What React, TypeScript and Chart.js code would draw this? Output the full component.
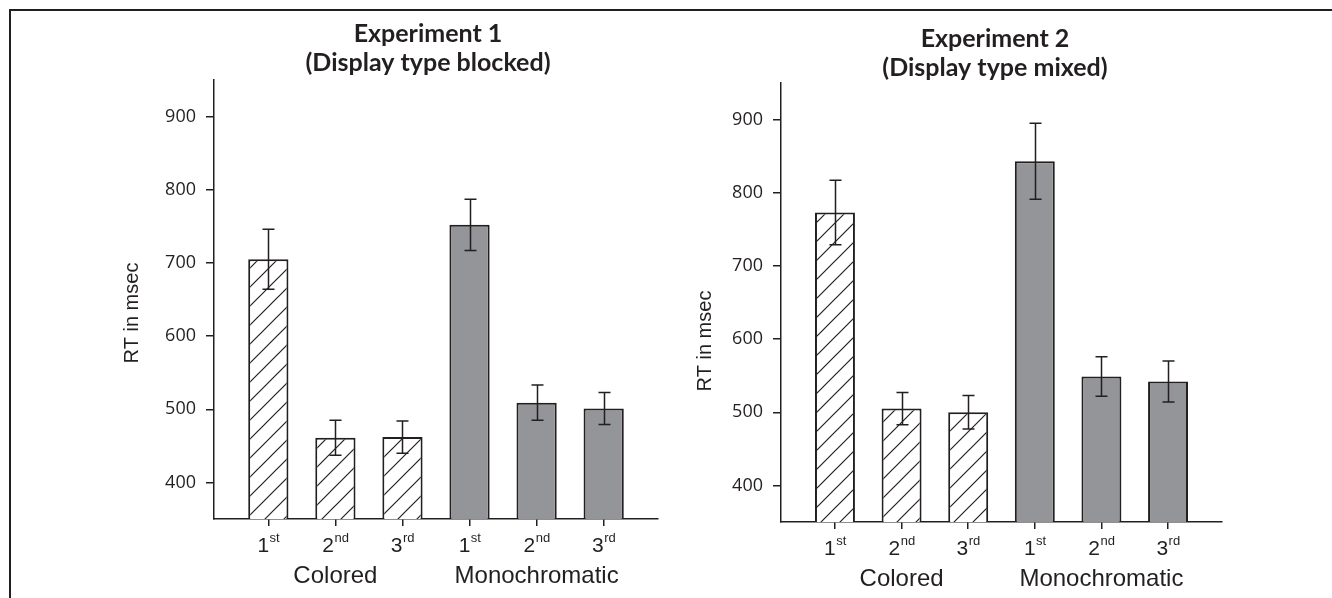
import React, { useEffect, useRef } from "react";
import { Chart, registerables } from "chart.js";

Chart.register(...registerables);

// ---------- data ----------
const CATEGORY_POS = [0, 1, 2, 3, 4, 5];
const TICK_NUMS = ["1", "2", "3", "1", "2", "3"];
const TICK_SUPS = ["st", "nd", "rd", "st", "nd", "rd"];
const GROUP_LABELS = ["Colored", "Monochromatic"];
const GROUP_CENTERS = [1, 4];
const BAR_STYLE = ["hatch", "hatch", "hatch", "solid", "solid", "solid"];
const Y_TICKS = [400, 500, 600, 700, 800, 900];
const Y_MIN = 350;
const Y_MAX = 950;
const X_MIN = -0.81;
const X_MAX = 5.81;
const Y_LABEL = "RT in msec";

const EXP1_TITLE = ["Experiment 1", "(Display type blocked)"];
const EXP1_RT = [705, 461, 462, 752, 509, 501];
const EXP1_ERR = [41, 24, 22, 35, 24, 22];

const EXP2_TITLE = ["Experiment 2", "(Display type mixed)"];
const EXP2_RT = [773, 505, 500, 843, 549, 542];
const EXP2_ERR = [44, 22, 23, 52, 27, 28];

// ---------- styles ----------
const INK = "#231f20";
const BAR_GRAY = "#939598";
const SANS = "'Liberation Sans', Arial, sans-serif";
const NUM_FONT = "'Open Sans', sans-serif";
const TITLE_FONT = "Lato, 'Open Sans', sans-serif";

type Geom = {
  canvas: { x: number; y: number; w: number; h: number };
  area: { l: number; r: number; t: number; b: number };
  yTitle: { x: number; y: number };
  title: { cx: number; y1: number; y2: number };
};

const LEFT_GEOM: Geom = {
  canvas: { x: 12, y: 12, w: 654, h: 586 },
  area: { l: 214, r: 658, t: 80, b: 519 },
  yTitle: { x: 132, y: 313 },
  title: { cx: 428, y1: 34, y2: 63 },
};

const RIGHT_GEOM: Geom = {
  canvas: { x: 666, y: 12, w: 666, h: 586 },
  area: { l: 781, r: 1222, t: 83, b: 522 },
  yTitle: { x: 705, y: 341 },
  title: { cx: 995, y1: 39, y2: 68 },
};

function makeHatch(ctx: CanvasRenderingContext2D): CanvasPattern | string {
  const s = 19;
  const c = document.createElement("canvas");
  c.width = s;
  c.height = s;
  const g = c.getContext("2d");
  if (!g) return "#fff";
  g.fillStyle = "#ffffff";
  g.fillRect(0, 0, s, s);
  g.strokeStyle = INK;
  g.lineWidth = 1.2;
  g.beginPath();
  g.moveTo(-1, s + 1);
  g.lineTo(s + 1, -1);
  g.moveTo(-2, 2);
  g.lineTo(2, -2);
  g.moveTo(s - 2, s + 2);
  g.lineTo(s + 2, s - 2);
  g.stroke();
  return ctx.createPattern(c, "repeat") || "#fff";
}

function PanelChart({
  title,
  values,
  errors,
  geom,
}: {
  title: string[];
  values: number[];
  errors: number[];
  geom: Geom;
}) {
  const ref = useRef<HTMLCanvasElement>(null);

  useEffect(() => {
    const canvas = ref.current;
    if (!canvas) return;
    const ctx0 = canvas.getContext("2d") as CanvasRenderingContext2D;
    const hatch = makeHatch(ctx0);
    const fills = BAR_STYLE.map((s) => (s === "hatch" ? hatch : BAR_GRAY));

    const ox = geom.canvas.x;
    const oy = geom.canvas.y;
    const YW = 110;
    const padLeft = geom.area.l - ox - YW;
    const padRight = ox + geom.canvas.w - geom.area.r;
    const padTop = geom.area.t - oy;
    const xH = oy + geom.canvas.h - geom.area.b;

    const decor = {
      id: "decor",
      afterDatasetsDraw(chart: any) {
        const { ctx } = chart;
        const xs = chart.scales.x;
        const ys = chart.scales.y;
        ctx.save();
        ctx.strokeStyle = INK;
        ctx.lineWidth = 1.5;
        values.forEach((v, i) => {
          const px = Math.round(xs.getPixelForValue(CATEGORY_POS[i])) + 0.5;
          const top = ys.getPixelForValue(v + errors[i]);
          const bot = ys.getPixelForValue(v - errors[i]);
          ctx.beginPath();
          ctx.moveTo(px, top);
          ctx.lineTo(px, bot);
          ctx.moveTo(px - 6, top);
          ctx.lineTo(px + 6, top);
          ctx.moveTo(px - 6, bot);
          ctx.lineTo(px + 6, bot);
          ctx.stroke();
        });
        ctx.restore();
      },
      afterDraw(chart: any) {
        const { ctx } = chart;
        const xs = chart.scales.x;
        const base = chart.chartArea.bottom;
        ctx.save();
        ctx.fillStyle = INK;
        // panel title
        ctx.textAlign = "center";
        ctx.textBaseline = "middle";
        ctx.font = `bold 25px ${TITLE_FONT}`;
        ctx.fillText(title[0], geom.title.cx - ox, geom.title.y1 - oy);
        ctx.fillText(title[1], geom.title.cx - ox, geom.title.y2 - oy);
        // y-axis title (rotated)
        ctx.save();
        ctx.translate(geom.yTitle.x - ox, geom.yTitle.y - oy);
        ctx.rotate(-Math.PI / 2);
        ctx.font = `20px ${SANS}`;
        ctx.fillText(Y_LABEL, 0, 0);
        ctx.restore();
        // ordinal tick labels with superscripts
        ctx.textAlign = "left";
        ctx.textBaseline = "alphabetic";
        CATEGORY_POS.forEach((v, i) => {
          const px = xs.getPixelForValue(v);
          ctx.font = `21px ${SANS}`;
          const wN = ctx.measureText(TICK_NUMS[i]).width;
          ctx.font = `13px ${SANS}`;
          const wS = ctx.measureText(TICK_SUPS[i]).width;
          const sx = px - (wN + wS) / 2;
          ctx.font = `21px ${SANS}`;
          ctx.fillText(TICK_NUMS[i], sx, base + 33);
          ctx.font = `13px ${SANS}`;
          ctx.fillText(TICK_SUPS[i], sx + wN + 0.5, base + 23);
        });
        // group labels
        ctx.textAlign = "center";
        ctx.font = `24px ${SANS}`;
        GROUP_LABELS.forEach((g, i) => {
          ctx.fillText(g, xs.getPixelForValue(GROUP_CENTERS[i]), base + 64);
        });
        ctx.restore();
      },
    };

    const chart = new Chart(canvas, {
      type: "bar",
      data: {
        datasets: [
          {
            data: CATEGORY_POS.map((x, i) => ({ x, y: values[i] })) as any,
            backgroundColor: fills as any,
            borderColor: INK,
            borderWidth: 2,
            borderSkipped: "start",
            barPercentage: 0.6,
            categoryPercentage: 1,
            base: Y_MIN,
            clip: 0,
          } as any,
        ],
      },
      options: {
        responsive: false,
        animation: false,
        devicePixelRatio: 1,
        layout: { padding: { left: padLeft, right: padRight, top: padTop, bottom: 0 } },
        plugins: {
          legend: { display: false },
          tooltip: { enabled: false },
          title: { display: false },
        },
        scales: {
          x: {
            type: "linear",
            min: X_MIN,
            max: X_MAX,
            offset: false,
            afterBuildTicks: (s: any) => {
              s.ticks = CATEGORY_POS.map((v) => ({ value: v }));
            },
            afterFit: (s: any) => {
              s.height = xH;
            },
            grid: {
              display: true,
              drawOnChartArea: false,
              drawTicks: true,
              tickLength: 7,
              color: INK,
              lineWidth: 1.5,
              offset: false,
            },
            border: { display: true, color: INK, width: 1.5 },
            ticks: { display: false },
          },
          y: {
            type: "linear",
            min: Y_MIN,
            max: Y_MAX,
            afterBuildTicks: (s: any) => {
              s.ticks = Y_TICKS.map((v) => ({ value: v }));
            },
            afterFit: (s: any) => {
              s.width = YW;
            },
            grid: {
              display: true,
              drawOnChartArea: false,
              drawTicks: true,
              tickLength: 8,
              color: INK,
              lineWidth: 1.5,
            },
            border: { display: true, color: INK, width: 1.5 },
            ticks: {
              color: INK,
              font: { family: NUM_FONT, size: 18 },
              padding: 10,
            },
            title: { display: false },
          },
        },
      } as any,
      plugins: [decor as any],
    });
    return () => chart.destroy();
  }, []);

  return (
    <canvas
      ref={ref}
      width={geom.canvas.w}
      height={geom.canvas.h}
      style={{
        position: "absolute",
        left: geom.canvas.x,
        top: geom.canvas.y,
        width: geom.canvas.w,
        height: geom.canvas.h,
      }}
    />
  );
}

export default function App() {
  return (
    <div
      style={{
        position: "absolute",
        left: 0,
        top: 0,
        width: 1332,
        height: 598,
        background: "#ffffff",
        overflow: "hidden",
      }}
    >
      <div
        style={{
          position: "absolute",
          left: 9,
          top: 9,
          width: 1332 - 9,
          height: 598 - 9,
          borderTop: `2px solid ${INK}`,
          borderLeft: `2px solid ${INK}`,
          boxSizing: "border-box",
        }}
      />
      <PanelChart title={EXP1_TITLE} values={EXP1_RT} errors={EXP1_ERR} geom={LEFT_GEOM} />
      <PanelChart title={EXP2_TITLE} values={EXP2_RT} errors={EXP2_ERR} geom={RIGHT_GEOM} />
    </div>
  );
}
